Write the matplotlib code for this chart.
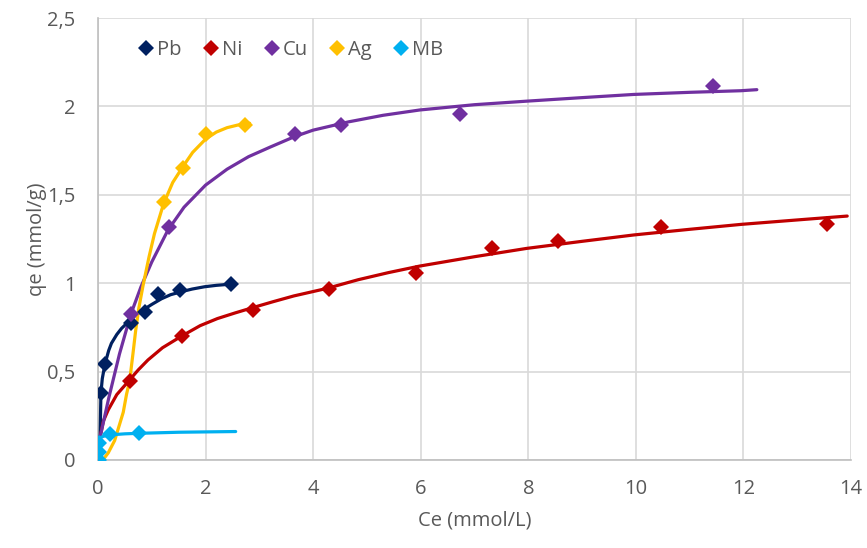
import matplotlib.pyplot as plt

# measured points (Ce mmol/L, qe mmol/g)
pb_ce = [0.055, 0.13, 0.62, 0.88, 1.11, 1.53, 2.48]
pb_qe = [0.377, 0.543, 0.773, 0.839, 0.939, 0.96, 0.995]
ni_ce = [0.59, 1.56, 2.89, 4.29, 5.92, 7.33, 8.55, 10.46, 13.55]
ni_qe = [0.449, 0.70, 0.848, 0.967, 1.06, 1.20, 1.239, 1.316, 1.335]
cu_ce = [0.61, 1.32, 3.66, 4.52, 6.73, 11.44]
cu_qe = [0.824, 1.316, 1.844, 1.895, 1.955, 2.117]
ag_ce = [1.22, 1.58, 2.0, 2.74]
ag_qe = [1.461, 1.65, 1.842, 1.895]
mb_ce = [0.02, 0.02, 0.02, 0.22, 0.77]
mb_qe = [0.0, 0.047, 0.094, 0.145, 0.151]

# model curves
pb_fit_ce = [0.04, 0.05, 0.055, 0.08, 0.13, 0.2, 0.25, 0.35, 0.44, 0.56, 0.7, 0.87,
             1.0, 1.18, 1.35, 1.55, 1.75, 1.98, 2.2, 2.48]
pb_fit_qe = [0.13, 0.30, 0.377, 0.46, 0.543, 0.62, 0.66, 0.71, 0.745, 0.78, 0.82, 0.855,
             0.88, 0.912, 0.935, 0.952, 0.967, 0.98, 0.988, 0.995]
ni_fit_ce = [0.04, 0.1, 0.19, 0.35, 0.56, 0.75, 0.93, 1.2, 1.55, 1.9, 2.22, 2.55, 2.9,
             3.25, 3.64, 4.26, 4.84, 5.4, 5.98, 7.0, 7.97, 9.0, 9.96, 11.0, 11.96, 13.0, 13.93]
ni_fit_qe = [0.13, 0.22, 0.283, 0.37, 0.443, 0.51, 0.566, 0.635, 0.70, 0.76, 0.80, 0.832, 0.864,
             0.895, 0.928, 0.971, 1.02, 1.06, 1.097, 1.15, 1.197, 1.237, 1.273, 1.305, 1.333, 1.358, 1.38]
cu_fit_ce = [0.04, 0.2, 0.4, 0.61, 0.8, 1.0, 1.3, 1.6, 2.0, 2.4, 2.8, 3.2, 3.66, 4.0,
             4.66, 5.3, 5.98, 7.0, 7.97, 9.0, 9.96, 11.0, 11.95, 12.25]
cu_fit_qe = [0.13, 0.35, 0.6, 0.824, 0.98, 1.12, 1.3, 1.43, 1.555, 1.645, 1.716, 1.77, 1.83, 1.866,
             1.913, 1.95, 1.98, 2.01, 2.03, 2.05, 2.068, 2.08, 2.089, 2.095]
ag_fit_ce = [0.09, 0.19, 0.31, 0.40, 0.47, 0.53, 0.59, 0.65, 0.70, 0.76, 0.84, 0.95, 1.05,
             1.22, 1.39, 1.58, 1.76, 2.0, 2.2, 2.4, 2.6, 2.82]
ag_fit_qe = [0.0, 0.04, 0.11, 0.2, 0.27, 0.37, 0.45, 0.6, 0.73, 0.86, 0.99, 1.15, 1.28,
             1.45, 1.57, 1.66, 1.74, 1.815, 1.855, 1.88, 1.895, 1.905]
mb_fit_ce = [0.04, 0.1, 0.22, 0.5, 0.77, 1.5, 2.56]
mb_fit_qe = [0.125, 0.134, 0.142, 0.148, 0.151, 0.157, 0.161]

names = ['Pb', 'Ni', 'Cu', 'Ag', 'MB']
colors = ['#002060', '#C00000', '#7030A0', '#FFC000', '#00B0F0']

y_ticks = [0, 0.5, 1, 1.5, 2, 2.5]
y_labels = ['0', '0,5', '1', '1,5', '2', '2,5']
x_ticks = [0, 2, 4, 6, 8, 10, 12, 14]

plt.rcParams['font.family'] = ['Open Sans', 'DejaVu Sans']
txt = '#595959'

fig = plt.figure(figsize=(8.67, 5.48), dpi=100)
ax = fig.add_axes([0.113, 0.1606, 0.8685, 0.8064])

fits = [(pb_fit_ce, pb_fit_qe), (ni_fit_ce, ni_fit_qe), (cu_fit_ce, cu_fit_qe),
        (ag_fit_ce, ag_fit_qe), (mb_fit_ce, mb_fit_qe)]
pts = [(pb_ce, pb_qe), (ni_ce, ni_qe), (cu_ce, cu_qe), (ag_ce, ag_qe), (mb_ce, mb_qe)]

for (fx, fy), c in zip(fits, colors):
    ax.plot(fx, fy, color=c, lw=2.3, zorder=3, solid_capstyle='round', solid_joinstyle='round')
for (px, py), c, n in zip(pts, colors, names):
    ax.plot(px, py, 'D', color=c, ms=8.5, mew=0, zorder=4, label=n)

ax.set_xlim(0, 14)
ax.set_ylim(0, 2.5)
ax.set_xticks(x_ticks)
ax.set_yticks(y_ticks)
ax.set_yticklabels(y_labels)
ax.grid(True, color='#d9d9d9', lw=1.2)
ax.set_axisbelow(True)
for s in ['top', 'right']:
    ax.spines[s].set_visible(False)
for s in ['left', 'bottom']:
    ax.spines[s].set_color('#bfbfbf')
    ax.spines[s].set_linewidth(1.2)
ax.tick_params(length=0, labelsize=14.5, colors=txt)
ax.tick_params(axis='x', pad=14)
ax.tick_params(axis='y', pad=16)
ax.set_xlabel('Ce (mmol/L)', fontsize=14.5, color=txt, labelpad=8)
ax.set_ylabel('qe (mmol/g)', fontsize=14.5, color=txt, labelpad=0)

leg = ax.legend(loc='upper left', bbox_to_anchor=(0.04, 0.968), ncol=5, frameon=False,
                fontsize=14.5, handletextpad=0.05, columnspacing=0.95, handlelength=1.0,
                borderaxespad=0)
for t in leg.get_texts():
    t.set_color(txt)

fig.savefig('out.png', dpi=100)
